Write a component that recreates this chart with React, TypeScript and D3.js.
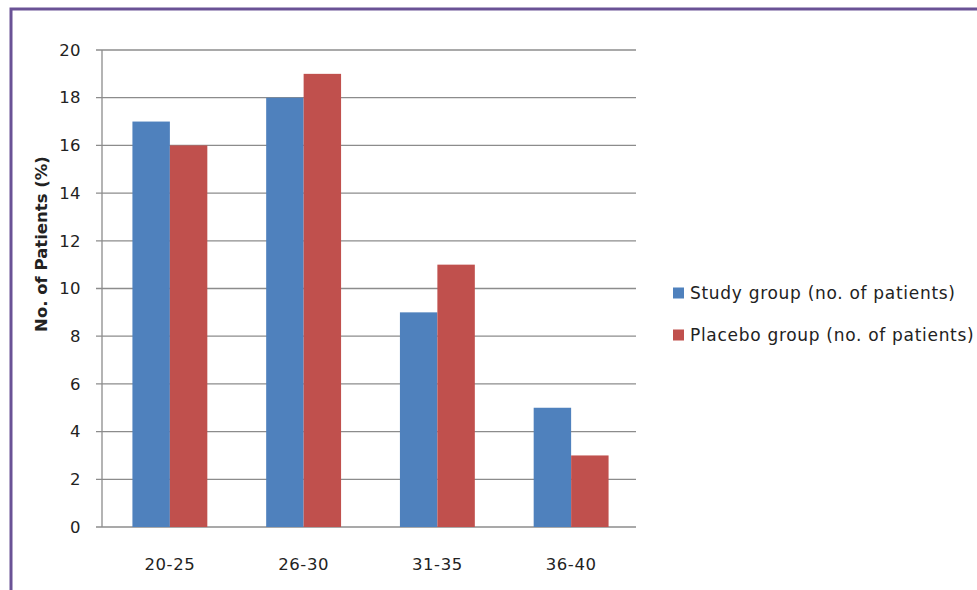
import React from "react";
import * as d3 from "d3";

const categories = ["20-25", "26-30", "31-35", "36-40"];
const seriesNames = ["Study group (no. of patients)", "Placebo group (no. of patients)"];
const studyValues = [17, 18, 9, 5];
const placeboValues = [16, 19, 11, 3];
const yTicks = [0, 2, 4, 6, 8, 10, 12, 14, 16, 18, 20];
const colors = ["#4F81BD", "#C0504D"];

export default function App() {
  const W = 977, H = 590;
  const left = 102, right = 636, top = 50, bottom = 527;
  const x = d3.scaleBand().domain(categories).range([left + 1, right + 2]).paddingInner(0.44).paddingOuter(0.22);
  const y = d3.scaleLinear().domain([0, 20]).range([bottom, top]);
  const series = [studyValues, placeboValues];
  const bw = x.bandwidth() / 2;
  const font = "'DejaVu Sans', Verdana, sans-serif";
  return (
    <svg width={W} height={H} style={{ position: "absolute", left: 0, top: 0 }} fontFamily={font}>
      <rect x={0} y={0} width={W} height={H} fill="#fff" />
      <rect x={11} y={9} width={W + 20} height={H + 20} fill="none" stroke="#6A5296" strokeWidth={3} />
      {yTicks.map((t) => (
        <g key={t}>
          <line x1={96} x2={right} y1={y(t)} y2={y(t)} stroke="#8C8C8C" strokeWidth={1.3} />
          <text x={81} y={y(t)} dy="0.35em" textAnchor="end" fontSize={16.5} letterSpacing={0.4} fill="#222">{t}</text>
        </g>
      ))}
      <line x1={left} x2={left} y1={top} y2={bottom} stroke="#8C8C8C" strokeWidth={1.3} />
      {categories.map((c, i) => (
        <g key={c}>
          {series.map((s, j) => (
            <rect key={j} x={(x(c) as number) + j * bw} y={y(s[i])} width={bw} height={bottom - y(s[i])} fill={colors[j]} />
          ))}
          <text x={(x(c) as number) + x.bandwidth() / 2} y={564} dy="0.35em" textAnchor="middle" fontSize={16.5} letterSpacing={0.6} fill="#222">{c}</text>
        </g>
      ))}
      <text transform={`translate(41,244) rotate(-90)`} textAnchor="middle" dy="0.35em" fontSize={16.5} fontWeight="bold" fill="#222">No. of Patients (%)</text>
      {seriesNames.map((n, j) => (
        <g key={n} transform={`translate(673,${293 + j * 42})`}>
          <rect x={0} y={-5.5} width={11} height={11} fill={colors[j]} />
          <text x={17} y={0} dy="0.35em" fontSize={17} letterSpacing={0.7} fill="#222">{n}</text>
        </g>
      ))}
    </svg>
  );
}
